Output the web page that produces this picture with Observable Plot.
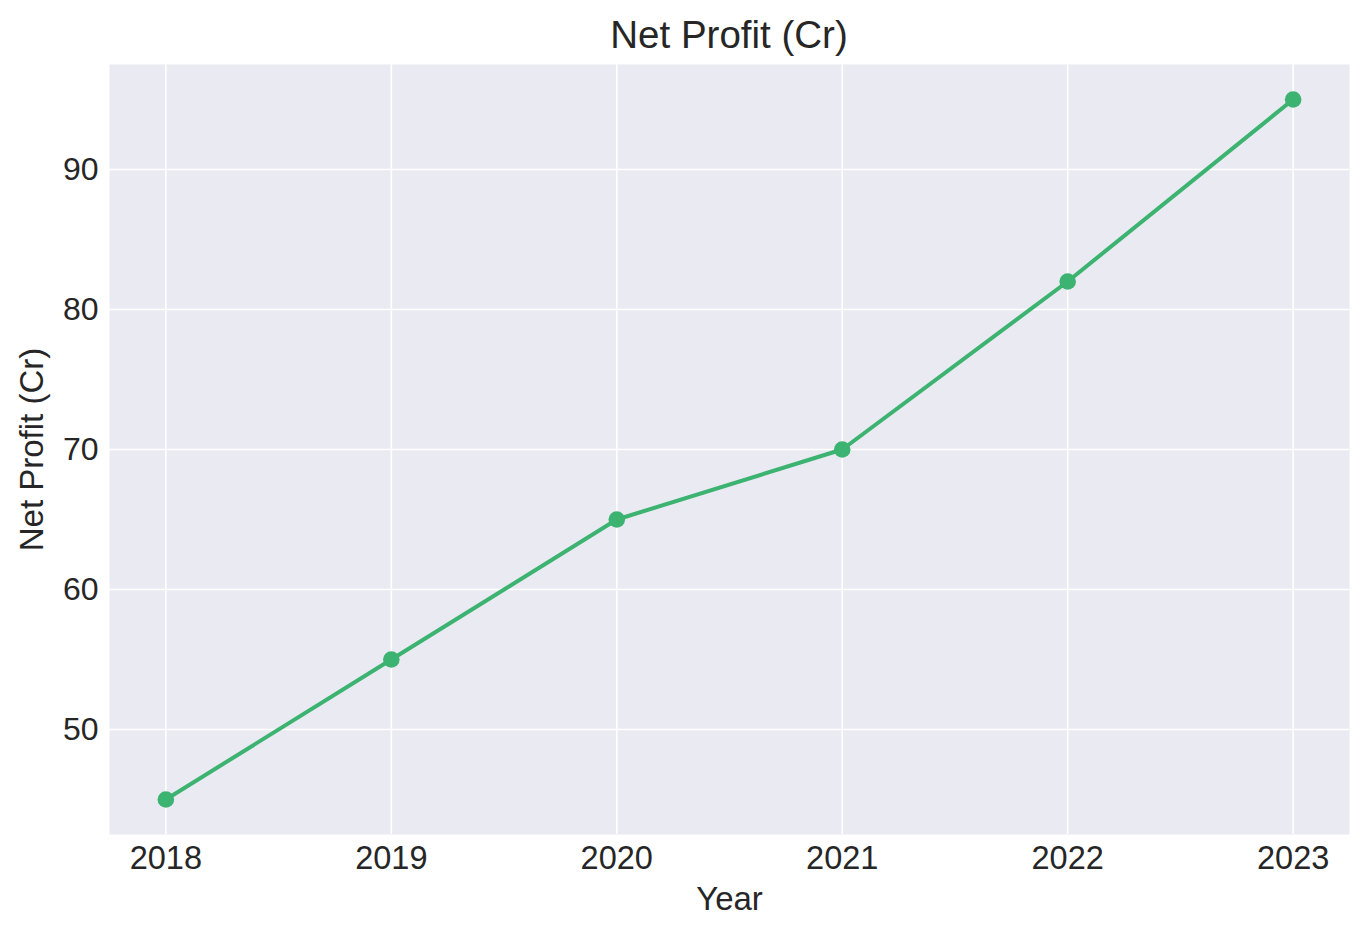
<!DOCTYPE html>
<html>
<head>
<meta charset="utf-8">
<script src="https://cdn.jsdelivr.net/npm/d3@7"></script>
<script src="https://cdn.jsdelivr.net/npm/@observablehq/plot@0.6"></script>
<style>
  html, body { margin: 0; padding: 0; background: #ffffff; }
  body { width: 1368px; height: 937px; overflow: hidden; font-family: "Liberation Sans", Arial, sans-serif; }
  #title { box-sizing: border-box; width: 1368px; height: 64px; line-height: 70px; padding-left: 109px; padding-right: 19px; text-align: center; font-size: 38.5px; color: #262626; white-space: nowrap; }
  #chart svg { display: block; }
</style>
</head>
<body>
<div id="title">Net Profit (Cr)</div>
<div id="chart"></div>
<script>
const years = [2018, 2019, 2020, 2021, 2022, 2023];
const profits = [45, 55, 65, 70, 82, 95];
const yTicks = [50, 60, 70, 80, 90];
const titleText = "Net Profit (Cr)";
const xLabel = "Year";
const yLabel = "Net Profit (Cr)";

const data = years.map((year, i) => ({year, profit: profits[i]}));

const textColor = "#262626";
const lineColor = "#3cb371";

const plot = Plot.plot({
  width: 1368,
  height: 873,
  marginTop: 0,
  marginBottom: 103,
  marginLeft: 109,
  marginRight: 19,
  style: { fontFamily: "Liberation Sans, Arial, sans-serif", color: textColor, background: "transparent", overflow: "visible" },
  x: { type: "linear", domain: [2017.75, 2023.25] },
  y: { domain: [42.5, 97.5] },
  marks: [
    Plot.frame({ fill: "#eaeaf2", stroke: null }),
    Plot.gridX(years, { stroke: "#ffffff", strokeOpacity: 1, strokeWidth: 1.6 }),
    Plot.gridY(yTicks, { stroke: "#ffffff", strokeOpacity: 1, strokeWidth: 1.6 }),
    Plot.axisX(years, { tickSize: 0, tickPadding: 11, fontSize: 32.5, tickFormat: d => String(d), label: null, fill: textColor }),
    Plot.axisY(yTicks, { tickSize: 0, tickPadding: 11, fontSize: 32, label: null, fill: textColor }),
    Plot.line(data, { x: "year", y: "profit", stroke: lineColor, strokeWidth: 4 }),
    Plot.dot(data, { x: "year", y: "profit", r: 8.3, fill: lineColor, stroke: null }),
    Plot.text([xLabel], { frameAnchor: "bottom", dy: 65, fontSize: 33, lineAnchor: "middle", textAnchor: "middle", fill: textColor }),
    Plot.text([yLabel], { frameAnchor: "left", dx: -77, rotate: -90, fontSize: 33, lineAnchor: "middle", textAnchor: "middle", fill: textColor })
  ]
});
document.getElementById("chart").appendChild(plot);
</script>
</body>
</html>
